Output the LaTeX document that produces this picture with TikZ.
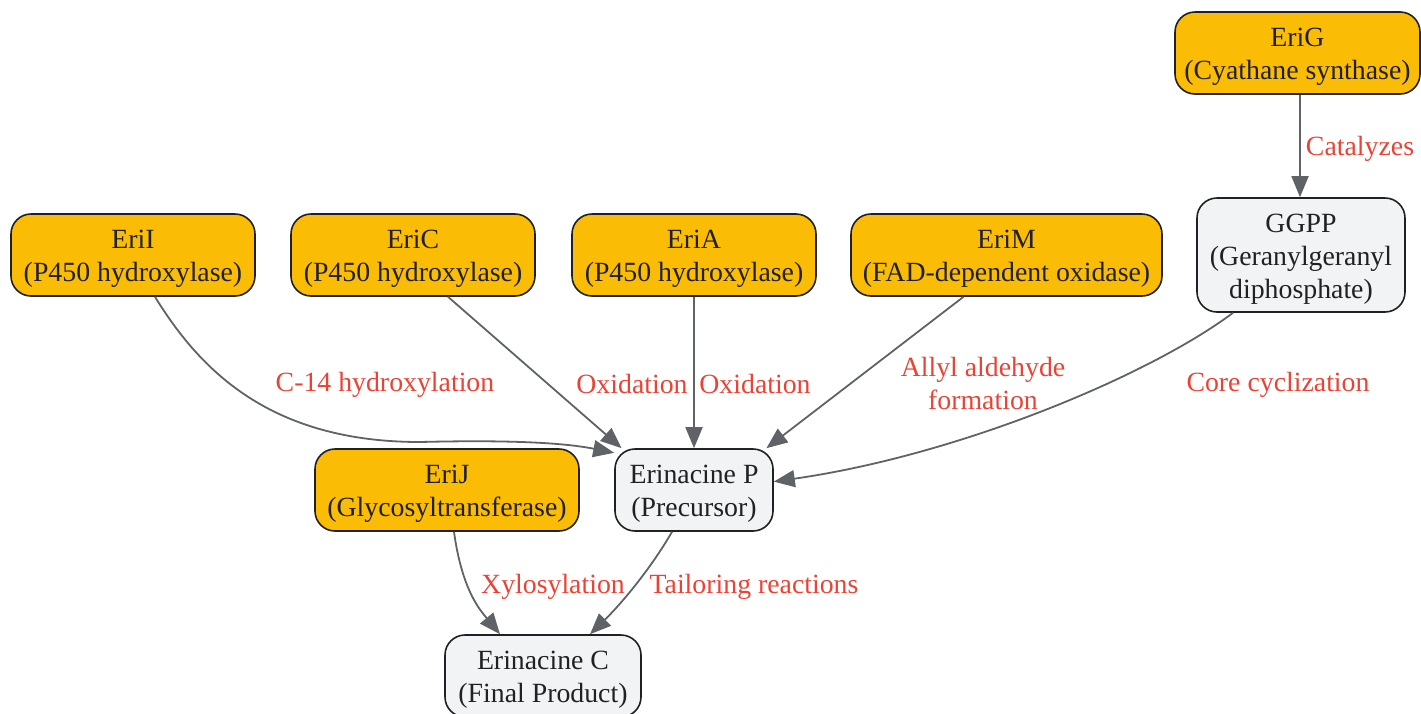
\documentclass[tikz,border=0pt]{standalone}
\usepackage{fontspec}
\setmainfont{Liberation Serif}
\usetikzlibrary{arrows.meta}
\definecolor{enzfill}{HTML}{FBBC05}
\definecolor{molfill}{HTML}{F1F3F4}
\definecolor{bordc}{HTML}{202124}
\definecolor{edgec}{HTML}{5F6368}
\definecolor{lblc}{HTML}{EA4335}
\newcommand\dn[1]{\raisebox{-4pt}[\height][\depth]{#1}}
\tikzset{
  box/.style={draw=bordc, line width=1.6pt, rounded corners=20pt, align=center,
    text=bordc, font=\fontsize{27.8}{33}\selectfont, inner sep=0pt},
  enz/.style={box, fill=enzfill, minimum height=82pt},
  mol/.style={box, fill=molfill},
  conn/.style={draw=edgec, line width=1.8pt, -{Triangle[length=21pt,width=17pt]}},
  lbl/.style={text=lblc, font=\fontsize{27.8}{33}\selectfont, align=center, inner sep=0pt}
}
\begin{document}
\begin{tikzpicture}[x=1pt,y=-1pt]
\useasboundingbox (0,0) rectangle (1421,713);
% nodes
\node[enz, minimum width=245pt] (EriG) at (1297.5,53) {\dn{EriG}\\\dn{(Cyathane synthase)}};
\node[mol, minimum width=208pt, minimum height=114pt] (GGPP) at (1301,255) {\dn{GGPP}\\\dn{(Geranylgeranyl}\\\dn{diphosphate)}};
\node[enz, minimum width=244pt] (EriI) at (133,255) {\dn{EriI}\\\dn{(P450 hydroxylase)}};
\node[enz, minimum width=244pt] (EriC) at (413,255) {\dn{EriC}\\\dn{(P450 hydroxylase)}};
\node[enz, minimum width=244pt] (EriA) at (694,255) {\dn{EriA}\\\dn{(P450 hydroxylase)}};
\node[enz, minimum width=311pt] (EriM) at (1006.5,255) {\dn{EriM}\\\dn{(FAD-dependent oxidase)}};
\node[enz, minimum width=264pt] (EriJ) at (447,490) {\dn{EriJ}\\\dn{(Glycosyltransferase)}};
\node[mol, minimum width=158pt, minimum height=82pt] (ErinP) at (694,490) {\dn{Erinacine P}\\\dn{(Precursor)}};
\node[mol, minimum width=196pt, minimum height=82pt] (ErinC) at (543,676) {\dn{Erinacine C}\\\dn{(Final Product)}};
% edges
\draw[conn] ([xshift=2.5pt]EriG.south) -- ([xshift=-1pt]GGPP.north);
\draw[conn] ([xshift=-68pt]GGPP.south) .. controls (1150,375) and (960,455) .. (ErinP.6);
\draw[conn] ([xshift=-43pt]EriM.south) -- (ErinP.30);
\draw[conn] (EriA) -- (ErinP);
\draw[conn] ([xshift=35pt]EriC.south) -- (ErinP.150);
\draw[conn] ([xshift=22pt]EriI.south) .. controls (200,370) and (270,442) .. (420,442)
   .. controls (500,440) and (560,442) .. (ErinP.155);
\draw[conn] ([xshift=7pt]EriJ.south) .. controls (462,590) and (480,610) .. ([xshift=-43pt]ErinC.north);
\draw[conn] ([xshift=-22pt]ErinP.south) .. controls (650,570) and (620,605) .. ([xshift=47pt]ErinC.north);
% labels
\node[lbl] (lCat) at (1360,149) {Catalyzes};
\node[lbl] (lCore) at (1278,385) {Core cyclization};
\node[lbl] (lAllyl) at (983,383) {Allyl aldehyde\\formation};
\node[lbl] (lOxA) at (755,384) {Oxidation};
\node[lbl] (lOxC) at (632,384) {Oxidation};
\node[lbl] (lC14) at (385,385) {C-14 hydroxylation};
\node[lbl] (lXyl) at (553,587) {Xylosylation};
\node[lbl] (lTail) at (754,587) {Tailoring reactions};
\end{tikzpicture}
\end{document}
